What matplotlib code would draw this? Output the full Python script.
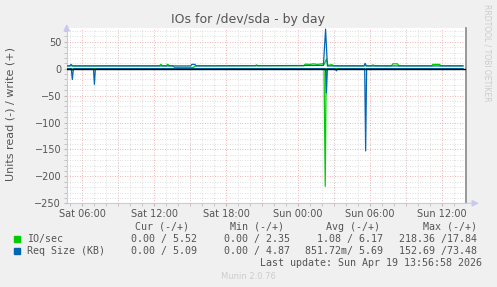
import matplotlib
matplotlib.use("Agg")
import matplotlib.pyplot as plt
from matplotlib.ticker import MultipleLocator

# hours since Sat 00:00
x_ticks = [6, 12, 18, 24, 30, 36]
x_labels = ["Sat 06:00", "Sat 12:00", "Sat 18:00", "Sun 00:00", "Sun 06:00", "Sun 12:00"]
y_ticks = [50, 0, -50, -100, -150, -200, -250]

# IO/sec write (+)
io_w_t = [4.72, 5.05, 5.15, 5.25, 8.0, 12.45, 12.58, 12.7, 13.0, 13.14, 13.3, 13.55, 13.7,
          15.3, 15.45, 20.45, 20.54, 20.65, 24.5, 24.6, 25.0, 25.3, 25.6, 26.0, 26.2,
          26.37, 26.5, 26.8, 27.0, 30.1, 30.25, 30.4, 31.8, 31.9, 32.3, 32.4, 35.15, 35.25,
          35.8, 35.9, 37.75]
io_w_v = [5.5, 5.5, 6.5, 5.2, 5.5, 5.5, 8.0, 5.5, 5.5, 8.0, 5.5, 5.5, 2.4,
          2.4, 5.5, 5.5, 7.0, 5.5, 5.5, 8.5, 8.0, 9.0, 8.0, 9.0, 8.5,
          17.8, 6.0, 7.5, 5.5, 5.5, 7.0, 5.5, 5.5, 9.0, 9.0, 5.5, 5.5, 8.0,
          8.0, 5.5, 5.5]

# IO/sec read (-)
io_r_t = [4.72, 5.15, 5.22, 5.3, 26.17, 26.27, 26.35, 37.75]
io_r_v = [0.0, 0.0, -3.0, 0.0, 0.0, -218.4, 0.0, 0.0]

# Req Size write (+)
rq_w_t = [4.72, 5.0, 5.08, 5.16, 15.05, 15.15, 15.4, 15.5, 26.12, 26.3, 26.45, 26.6,
          29.5, 29.6, 29.7, 37.75]
rq_w_v = [5.1, 5.1, 8.0, 5.1, 5.1, 8.0, 8.0, 5.1, 6.0, 73.5, 5.0, 5.1,
          5.1, 10.0, 5.1, 5.1]

# Req Size read (-)
rq_r_t = [4.72, 5.1, 5.19, 5.28, 6.95, 7.03, 7.11, 26.3, 26.37, 26.45, 27.1, 27.2, 27.3,
          29.56, 29.64, 29.72, 37.75]
rq_r_v = [0.0, 0.0, -20.0, 0.0, 0.0, -29.0, 0.0, 0.0, -45.0, 0.0, 0.0, -4.0, 0.0,
          0.0, -152.7, 0.0, 0.0]

GREEN = "#00CC00"
BLUE = "#0066B3"

fig = plt.figure(figsize=(4.97, 2.87), dpi=100, facecolor="#F0F0F0")
ax = fig.add_axes([66.7 / 497, 1 - 203.3 / 287, 399 / 497, 175 / 287])
ax.set_facecolor("white")
ax.set_xlim(4.72, 37.98)
ax.set_ylim(-250, 75)

ax.xaxis.set_major_locator(MultipleLocator(3))
ax.xaxis.set_minor_locator(MultipleLocator(1))
ax.yaxis.set_major_locator(MultipleLocator(50))
ax.yaxis.set_minor_locator(MultipleLocator(10))
ax.grid(which="minor", color="#D4D4D4", linestyle=(0, (1, 2)), linewidth=0.6)
ax.grid(which="major", color="#E89A9A", linestyle=(0, (1, 2)), linewidth=0.6)
ax.set_axisbelow(True)

ax.set_xticks(x_ticks, minor=False)
ax.set_xticks([h for h in range(5, 38) if h not in x_ticks], minor=True)
ax.set_xticklabels(x_labels)
# keep red grid every 3 hours
for h in range(6, 38, 3):
    if h not in x_ticks:
        ax.axvline(h, color="#E89A9A", linestyle=(0, (1, 2)), linewidth=0.6, zorder=0.5)
ax.set_yticks(y_ticks)
ax.tick_params(axis="both", which="both", length=2, color="#BBBBBB", labelcolor="#555555",
               labelsize=7, pad=2)

ax.plot(io_r_t, io_r_v, color=GREEN, lw=0.9, zorder=2)
ax.plot(io_w_t, io_w_v, color=GREEN, lw=0.9, zorder=2)
ax.plot(rq_r_t, rq_r_v, color=BLUE, lw=0.9, zorder=3)
ax.plot(rq_w_t, rq_w_v, color=BLUE, lw=0.9, zorder=3)
ax.axhline(0, color="black", lw=1.0, zorder=4)

for s in ["top"]:
    ax.spines[s].set_visible(False)
ax.spines["right"].set_color("#888888")
ax.spines["right"].set_linewidth(1.2)
ax.spines["left"].set_color("#C8C8F0")
ax.spines["bottom"].set_color("#C8C8F0")
# axis arrows
ax.annotate("", xy=(0, 1.04), xytext=(0, 0.98), xycoords="axes fraction",
            arrowprops=dict(arrowstyle="-|>", color="#C8C8F0", lw=0.8), annotation_clip=False)
ax.annotate("", xy=(1.04, 0), xytext=(0.99, 0), xycoords="axes fraction",
            arrowprops=dict(arrowstyle="-|>", color="#C8C8F0", lw=0.8), annotation_clip=False)

fig.text(248 / 497, 1 - 19 / 287, "IOs for /dev/sda - by day", ha="center", va="center",
         fontsize=9, color="#555555")
fig.text(11 / 497, 1 - 114 / 287, "Units read (-) / write (+)", rotation=90, ha="center",
         va="center", fontsize=8, color="#555555")
fig.text(487 / 497, 1 - 53 / 287, "RRDTOOL / TOBI OETIKER", rotation=270, ha="center",
         va="center", fontsize=5.5, color="#CCCCCC")
fig.text(248 / 497, 1 - 276.7 / 287, "Munin 2.0.76", ha="center", va="center",
         fontsize=6, color="#CCCCCC")

mono = dict(family="DejaVu Sans Mono", fontsize=7.2, color="#555555", va="center")
fy = lambda y: 1 - y / 287
fx = lambda x: x / 497
headers = ["Cur (-/+)", "Min (-/+)", "Avg (-/+)", "Max (-/+)"]
header_x = [135, 230, 326, 422.7]
for h, x in zip(headers, header_x):
    fig.text(fx(x), fy(226.7), h, **mono)

names = ["IO/sec", "Req Size (KB)"]
colors = [GREEN, BLUE]
cur = ["0.00 / 5.52", "0.00 / 5.09"]
mins = ["0.00 / 2.35", "0.00 / 4.87"]
avgs = ["1.08 / 6.17", "851.72m/ 5.69"]
maxs = ["218.36 /17.84", "152.69 /73.48"]
for i, y in enumerate([239.3, 251.3]):
    fig.patches.append(plt.Rectangle((fx(14), fy(y + 3)), 6 / 497, 6 / 287,
                                     transform=fig.transFigure, color=colors[i], figure=fig))
    fig.text(fx(26.7), fy(y), names[i], **mono)
    fig.text(fx(197.3), fy(y), cur[i], ha="right", **mono)
    fig.text(fx(290), fy(y), mins[i], ha="right", **mono)
    fig.text(fx(383.3), fy(y), avgs[i], ha="right", **mono)
    fig.text(fx(476.7), fy(y), maxs[i], ha="right", **mono)
fig.text(fx(482.3), fy(263.3), "Last update: Sun Apr 19 13:56:58 2026", ha="right", **mono)

fig.savefig("out.png", dpi=100, facecolor=fig.get_facecolor())
